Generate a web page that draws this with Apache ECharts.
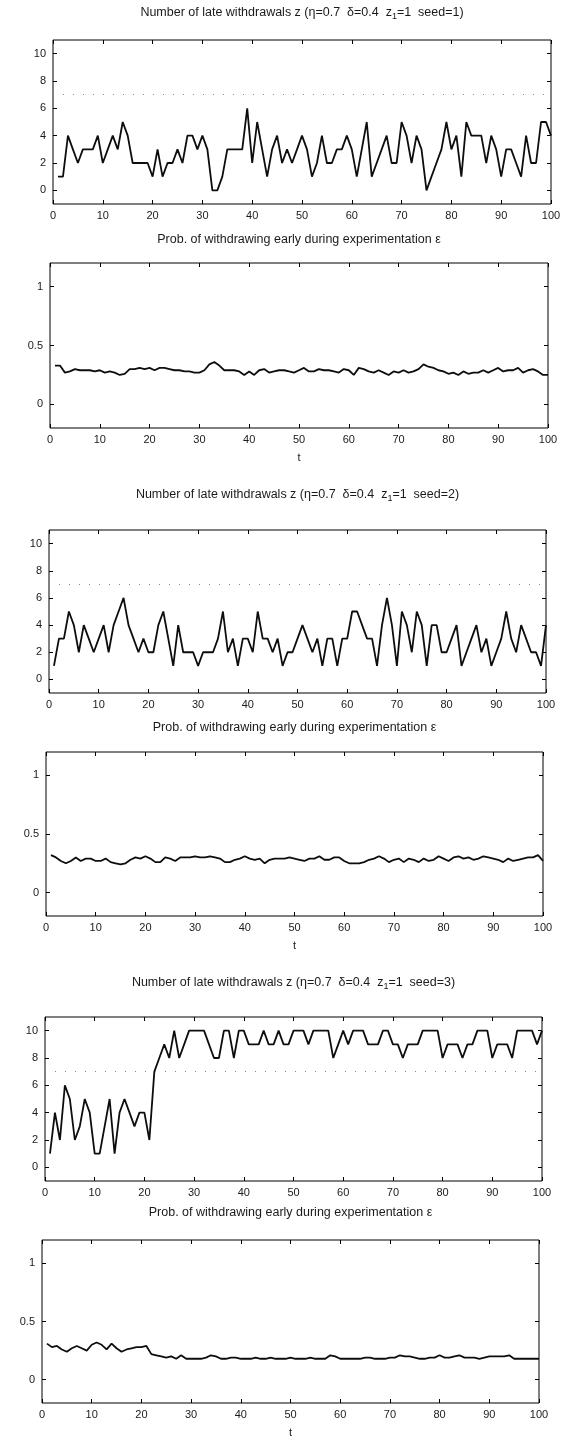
<!DOCTYPE html>
<html>
<head>
<meta charset="utf-8">
<script src="https://cdn.jsdelivr.net/npm/echarts@6/dist/echarts.min.js"></script>
<style>
html,body{margin:0;padding:0;background:#fff;}
#chart{width:566px;height:1441px;}
</style>
</head>
<body>
<div id="chart"></div>
<script>
// time steps t = 1..100
const tMin = 0, tMax = 100;
const xTicks = [0,10,20,30,40,50,60,70,80,90,100];
const zTicks = [0,2,4,6,8,10];
const pTicks = [0,0.5,1];
const threshold = 7;

const zTitles = [
  ['Number of late withdrawals z (η=0.7  δ=0.4  z', '1', '=1  seed=1)'],
  ['Number of late withdrawals z (η=0.7  δ=0.4  z', '1', '=1  seed=2)'],
  ['Number of late withdrawals z (η=0.7  δ=0.4  z', '1', '=1  seed=3)']
];
const pTitle = 'Prob. of withdrawing early during experimentation ε';

// Number of late withdrawals, seed = 1
const zSeed1 = [1,1,4,3,2,3,3,3,4,2, 3,4,3,5,4,2,2,2,2,1, 3,1,2,2,3,2,4,4,3,4,
  3,0,0,1,3,3,3,3,6,2, 5,3,1,3,4,2,3,2,3,4, 3,1,2,4,2,2,3,3,4,3,
  1,3,5,1,2,3,4,2,2,5, 4,2,4,3,0,1,2,3,5,3, 4,1,5,4,4,4,2,4,3,1,
  3,3,2,1,4,2,2,5,5,4];
// Prob. of withdrawing early, seed = 1
const pSeed1 = [0.33,0.33,0.27,0.28,0.30,0.29,0.29,0.29,0.28,0.29,
  0.27,0.28,0.27,0.25,0.26,0.30,0.30,0.31,0.30,0.31,
  0.29,0.31,0.31,0.30,0.29,0.29,0.28,0.28,0.27,0.27,
  0.29,0.34,0.36,0.33,0.29,0.29,0.29,0.28,0.25,0.28,
  0.25,0.29,0.30,0.27,0.28,0.29,0.29,0.28,0.27,0.29,
  0.31,0.28,0.28,0.30,0.29,0.29,0.28,0.27,0.30,0.29,
  0.25,0.31,0.30,0.28,0.27,0.29,0.27,0.25,0.28,0.27,
  0.29,0.27,0.28,0.30,0.34,0.32,0.31,0.29,0.28,0.26,
  0.27,0.25,0.28,0.26,0.27,0.27,0.29,0.27,0.29,0.31,
  0.28,0.29,0.29,0.31,0.27,0.29,0.30,0.28,0.25,0.25];
// Number of late withdrawals, seed = 2
const zSeed2 = [1,3,3,5,4,2,4,3,2,3, 4,2,4,5,6,4,3,2,3,2, 2,4,5,3,1,4,2,2,2,1,
  2,2,2,3,5,2,3,1,3,3, 2,5,3,3,2,3,1,2,2,3, 4,3,2,3,1,3,3,1,3,3,
  5,5,4,3,3,1,4,6,4,1, 5,4,2,5,4,1,4,4,2,2, 3,4,1,2,3,4,2,3,1,2,
  3,5,3,2,4,3,2,2,1,4];
// Prob. of withdrawing early, seed = 2
const pSeed2 = [0.32,0.30,0.27,0.25,0.27,0.30,0.27,0.29,0.29,0.27,
  0.27,0.29,0.26,0.25,0.24,0.25,0.28,0.30,0.29,0.31,
  0.29,0.26,0.26,0.30,0.29,0.27,0.30,0.30,0.30,0.31,
  0.30,0.30,0.31,0.30,0.29,0.26,0.26,0.28,0.29,0.31,
  0.29,0.28,0.29,0.25,0.28,0.29,0.29,0.29,0.30,0.29,
  0.28,0.27,0.29,0.29,0.31,0.28,0.28,0.30,0.30,0.27,
  0.25,0.25,0.25,0.26,0.28,0.29,0.31,0.29,0.26,0.28,
  0.29,0.26,0.29,0.28,0.26,0.29,0.27,0.28,0.31,0.29,
  0.27,0.30,0.31,0.29,0.30,0.28,0.29,0.31,0.30,0.29,
  0.28,0.26,0.29,0.27,0.28,0.29,0.30,0.30,0.32,0.27];
// Number of late withdrawals, seed = 3
const zSeed3 = [1,4,2,6,5,2,3,5,4,1, 1,3,5,1,4,5,4,3,4,4, 2,7,8,9,8,10,8,9,10,10,
  10,10,9,8,8,10,10,8,10,10, 9,9,9,10,9,9,10,9,9,10, 10,10,9,10,10,10,10,8,9,10,
  9,10,10,10,9,9,9,10,10,9, 9,8,9,9,9,10,10,10,10,8, 9,9,9,8,9,9,10,10,10,8,
  9,9,9,8,10,10,10,10,9,10];
// Prob. of withdrawing early, seed = 3
const pSeed3 = [0.31,0.28,0.29,0.26,0.24,0.27,0.29,0.27,0.25,0.30,
  0.32,0.30,0.26,0.31,0.27,0.24,0.26,0.27,0.28,0.28,
  0.29,0.22,0.21,0.20,0.19,0.20,0.18,0.21,0.18,0.18,
  0.18,0.18,0.19,0.21,0.20,0.18,0.18,0.19,0.19,0.18,
  0.18,0.18,0.19,0.18,0.18,0.19,0.18,0.18,0.18,0.19,
  0.18,0.18,0.18,0.19,0.18,0.18,0.18,0.21,0.20,0.18,
  0.18,0.18,0.18,0.18,0.19,0.19,0.18,0.18,0.18,0.19,
  0.19,0.21,0.20,0.20,0.19,0.18,0.18,0.19,0.19,0.21,
  0.19,0.19,0.20,0.21,0.19,0.19,0.19,0.18,0.19,0.20,
  0.20,0.20,0.20,0.21,0.18,0.18,0.18,0.18,0.18,0.18];

const panels = [
  {kind:'z', data:zSeed1, title:zTitles[0]},
  {kind:'p', data:pSeed1},
  {kind:'z', data:zSeed2, title:zTitles[1]},
  {kind:'p', data:pSeed2},
  {kind:'z', data:zSeed3, title:zTitles[2]},
  {kind:'p', data:pSeed3}
];
// layout (pixels)
const boxes = [
  {left:53, top:40,  width:498, height:164, titleY:13},
  {left:50, top:263, width:498, height:165, titleY:240},
  {left:49, top:530, width:497, height:163, titleY:495},
  {left:46, top:752, width:497, height:164, titleY:728},
  {left:45, top:1017,width:497, height:164, titleY:983},
  {left:42, top:1240,width:497, height:163, titleY:1213}
];

const FONT = '"Liberation Sans", Arial, sans-serif';
const TXT = '#1a1a1a';
const grids = [], xAxes = [], yAxes = [], series = [], graphics = [];
panels.forEach((p, i) => {
  const b = boxes[i];
  grids.push({left:b.left, top:b.top, width:b.width, height:b.height, show:true,
    borderColor:'#000', borderWidth:1, backgroundColor:'transparent', containLabel:false});
  const isZ = p.kind === 'z';
  const yMin = isZ ? -1 : -0.2, yMax = isZ ? 11 : 1.2;
  const yT = isZ ? zTicks : pTicks;
  const tick = {show:true, inside:true, length:4, lineStyle:{color:'#000', width:1}};
  const line = {show:false, onZero:false};
  xAxes.push({gridIndex:i, type:'value', min:tMin, max:tMax, interval:10, position:'bottom',
    axisLine:line, splitLine:{show:false}, axisTick:tick,
    axisLabel:{color:TXT, fontSize:11, fontFamily:FONT, margin:6},
    name: isZ ? '' : 't', nameLocation:'middle', nameGap:24,
    nameTextStyle:{color:TXT, fontSize:11, fontFamily:FONT}});
  xAxes.push({gridIndex:i, type:'value', min:tMin, max:tMax, interval:10, position:'top',
    axisLine:line, splitLine:{show:false}, axisTick:tick, axisLabel:{show:false}});
  yAxes.push({gridIndex:i, type:'value', min:yMin, max:yMax, position:'left',
    axisLine:line, splitLine:{show:false},
    axisTick:Object.assign({customValues:yT}, tick),
    axisLabel:{customValues:yT, color:TXT, fontSize:11, fontFamily:FONT, margin:7}});
  yAxes.push({gridIndex:i, type:'value', min:yMin, max:yMax, position:'right',
    axisLine:line, splitLine:{show:false},
    axisTick:Object.assign({customValues:yT}, tick), axisLabel:{show:false}});
  const s = {type:'line', xAxisIndex:2*i, yAxisIndex:2*i, showSymbol:false, animation:false,
    lineStyle:{color:'#0d0d0d', width:1.8}, data:p.data.map((v, k) => [k + 1, v])};
  if (isZ) {
    s.markLine = {silent:true, symbol:'none', animation:false, label:{show:false},
      lineStyle:{type:[1,9], color:'#8a8a8a', width:1}, data:[{yAxis:threshold}]};
  }
  series.push(s);
  const cx = b.left + b.width / 2;
  if (isZ) {
    graphics.push({type:'text', x:cx, y:b.titleY, style:{
      text:p.title[0] + '{sub|' + p.title[1] + '}' + p.title[2],
      rich:{sub:{fontSize:9, fontFamily:FONT, fill:TXT, padding:[7,0,0,0]}},
      font:'12.5px ' + FONT, fill:TXT, align:'center', verticalAlign:'middle'}});
  } else {
    graphics.push({type:'text', x:cx, y:b.titleY, style:{text:pTitle,
      font:'12.5px ' + FONT, fill:TXT, align:'center', verticalAlign:'middle'}});
  }
});

const chart = echarts.init(document.getElementById('chart'), null, {renderer:'canvas'});
chart.setOption({animation:false, backgroundColor:'#fff', grid:grids, xAxis:xAxes, yAxis:yAxes,
  series:series, graphic:graphics});
</script>
</body>
</html>
